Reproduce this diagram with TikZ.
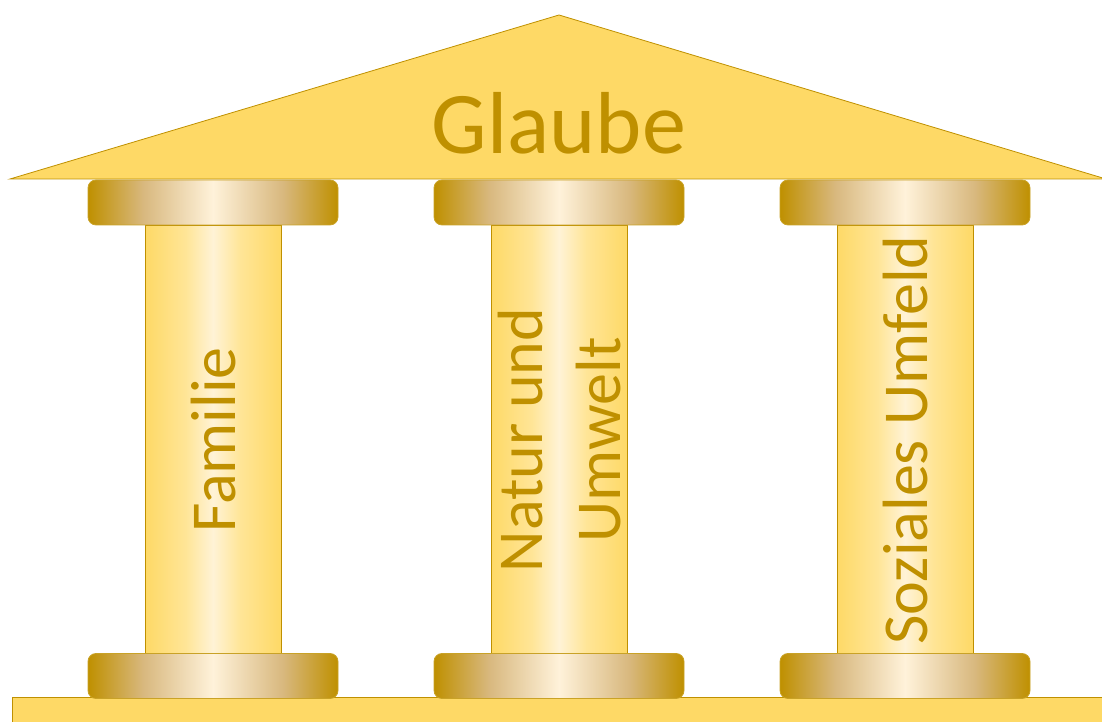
\documentclass[tikz,border=0pt]{standalone}
\usepackage{fontspec}
\setmainfont{Carlito}
\definecolor{goldfill}{HTML}{FED966}
\definecolor{golddark}{HTML}{BF9000}
\definecolor{goldline}{HTML}{C9A227}
\definecolor{captan}{HTML}{D8B87E}
\definecolor{capmid}{HTML}{FFF2DA}
\definecolor{shaftmid}{HTML}{FFF3D6}
\definecolor{shaftq}{HTML}{FFE597}
\pgfdeclarehorizontalshading{capshade}{100bp}{color(0bp)=(golddark); color(25bp)=(golddark); color(36bp)=(captan); color(50bp)=(capmid); color(64bp)=(captan); color(75bp)=(golddark); color(100bp)=(golddark)}
\pgfdeclarehorizontalshading{shaftshade}{100bp}{color(0bp)=(goldfill); color(25bp)=(goldfill); color(40bp)=(shaftq); color(50bp)=(shaftmid); color(60bp)=(shaftq); color(75bp)=(goldfill); color(100bp)=(goldfill)}
\tikzset{
  capbox/.style={draw=goldline, line width=0.8pt, rounded corners=8pt, shading=capshade, minimum width=250pt, minimum height=45pt, inner sep=0pt},
  shaftbox/.style={draw=golddark, line width=0.8pt, shading=shaftshade, minimum width=136pt, minimum height=430pt, inner sep=0pt},
  coltext/.style={text=golddark, rotate=90, align=center, font=\fontsize{64}{78}\selectfont, inner sep=0pt},
}
\begin{document}
\begin{tikzpicture}[x=1pt,y=1pt]
\useasboundingbox (0,0) rectangle (1102,722);
% foundation
\draw[draw=golddark, fill=goldfill, line width=1pt] (12,-5) rectangle (1110,24);
% roof
\draw[draw=golddark, fill=goldfill, line width=0.8pt] (10,543) -- (559,707) -- (1106,543) -- cycle;
\node[text=golddark, font=\fontsize{88}{100}\selectfont, inner sep=0pt] (roof) at (559,599) {Glaube};
% columns
\foreach \cx/\nm in {213/a,559/b,905/c}{
  \node[shaftbox] (shaft\nm) at (\cx,282) {};
  \node[capbox] (cap\nm) at (\cx,519.5) {};
  \node[capbox] (base\nm) at (\cx,46) {};
}
\node[coltext] (ta) at (214,282) {Familie};
\node[coltext] (tb) at (560,282) {Natur und\\Umwelt};
\node[coltext] (tc) at (906,282) {Soziales Umfeld};
\end{tikzpicture}
\end{document}
